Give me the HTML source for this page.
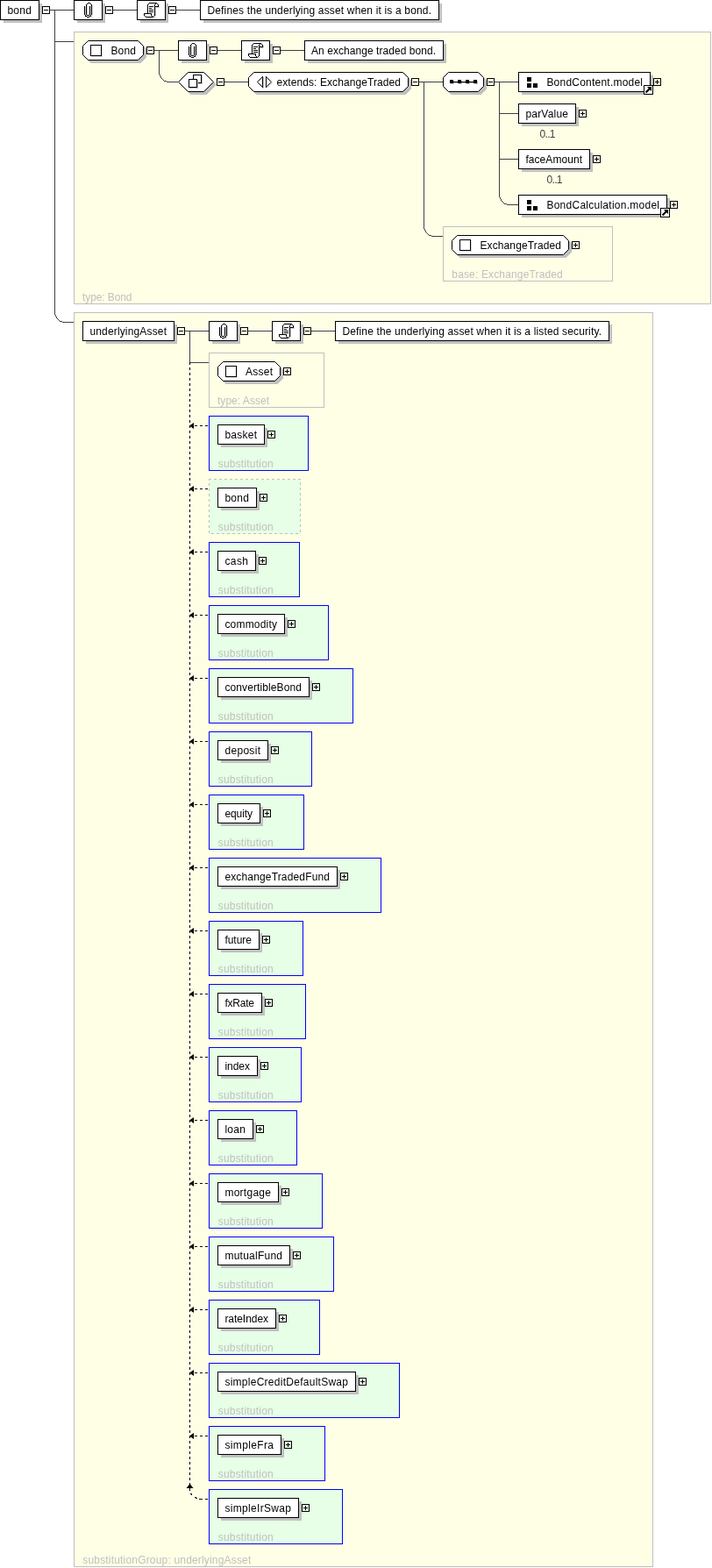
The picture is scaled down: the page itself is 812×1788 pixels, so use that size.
<!DOCTYPE html>
<html><head><meta charset="utf-8"><title>bond</title>
<style>
html,body{margin:0;padding:0;background:#fff}
svg{display:block;will-change:transform}
svg text{font-family:"Liberation Sans",sans-serif;font-size:12px;white-space:pre}
svg rect, svg path, svg polygon{shape-rendering:crispEdges}
svg .aa, svg .aa *{shape-rendering:geometricPrecision}
</style></head>
<body>
<svg width="812" height="1788" viewBox="0 0 812 1788">
<rect x="57" y="11" width="27" height="1" fill="#404040"/>
<rect x="129" y="11" width="27" height="1" fill="#404040"/>
<rect x="201" y="11" width="27" height="1" fill="#404040"/>
<rect x="62" y="11" width="1" height="347" fill="#404040"/>
<rect x="62" y="47" width="22" height="1" fill="#404040"/>
<rect x="62" y="350" width="1" height="9" fill="#404040"/>
<rect x="63" y="359" width="1" height="2" fill="#404040"/>
<rect x="64" y="361" width="1" height="2" fill="#404040"/>
<rect x="65" y="363" width="1" height="1" fill="#404040"/>
<rect x="66" y="364" width="1" height="1" fill="#404040"/>
<rect x="67" y="365" width="1" height="1" fill="#404040"/>
<rect x="68" y="366" width="3" height="1" fill="#404040"/>
<rect x="71" y="367" width="13" height="1" fill="#404040"/>
<rect x="4" y="4" width="44" height="22" fill="#c0c0c0"/>
<rect x="0.5" y="0.5" width="44" height="22" fill="#fff" stroke="#000"/>
<text x="8.4" y="16" fill="#000" textLength="27.6" lengthAdjust="spacing">bond</text>
<rect x="48.5" y="7.5" width="8" height="8" fill="#fff" stroke="#000"/>
<rect x="50" y="11" width="5" height="1" fill="#000"/>
<rect x="88" y="4" width="32" height="22" fill="#c0c0c0"/>
<rect x="84.5" y="0.5" width="32" height="22" fill="#fff" stroke="#000"/>
<path d="M97,8h1v9h-1zM99,5h1v12h-1zM103,7h1v10h-1zM105,6h1v12h-1zM100,18h3v1h-3zM104,19h1v1h-1z" fill="#dcdcdc"/>
<path d="M96,7h1v10h-1zM97,17h1v2h-1zM98,18h1v1h-1zM99,19h3v1h-3zM102,18h1v1h-1zM103,17h1v2h-1zM104,5h1v12h-1zM103,4h1v1h-1zM100,3h3v1h-3zM99,4h1v1h-1zM98,5h1v12h-1zM99,17h3v1h-3zM102,7h1v10h-1z" fill="#000"/>
<rect x="120.5" y="7.5" width="8" height="8" fill="#fff" stroke="#000"/>
<rect x="122" y="11" width="5" height="1" fill="#000"/>
<rect x="160" y="4" width="32" height="22" fill="#c0c0c0"/>
<rect x="156.5" y="0.5" width="32" height="22" fill="#fff" stroke="#000"/>
<path d="M177,8h1v11h-1zM176,19h1v1h-1zM175,20h2v1h-2zM181,6h1v2h-1zM178,8h4v1h-4z" fill="#d0d0d0"/>
<path d="M170,3h9v1h-9zM169,4h1v1h-1zM177,4h1v1h-1zM179,4h1v1h-1zM168,5h1v10h-1zM176,5h1v13h-1zM180,5h1v2h-1zM177,7h4v1h-4zM170,7h5v1h-5zM170,9h3v1h-3zM170,11h5v1h-5zM170,13h5v1h-5zM164,15h9v1h-9zM164,16h1v2h-1zM172,16h1v2h-1zM165,18h1v1h-1zM173,18h1v1h-1zM175,18h1v1h-1zM166,19h9v1h-9z" fill="#000"/>
<rect x="192.5" y="7.5" width="8" height="8" fill="#fff" stroke="#000"/>
<rect x="194" y="11" width="5" height="1" fill="#000"/>
<rect x="232" y="4" width="272" height="22" fill="#c0c0c0"/>
<rect x="228.5" y="0.5" width="272" height="22" fill="#fff" stroke="#000"/>
<text x="236.4" y="16" fill="#000" textLength="255.6" lengthAdjust="spacing">Defines the underlying asset when it is a bond.</text>
<rect x="84.5" y="36.5" width="726" height="310" fill="#ffffe6" stroke="#c0c0c0"/>
<text x="94" y="343" fill="#c0c0c0" textLength="56.5" lengthAdjust="spacing">type: Bond</text>
<rect x="176" y="57" width="27" height="1" fill="#404040"/>
<rect x="248" y="57" width="27" height="1" fill="#404040"/>
<rect x="320" y="57" width="27" height="1" fill="#404040"/>
<rect x="181" y="57" width="1" height="28" fill="#404040"/>
<rect x="182" y="85" width="1" height="2" fill="#404040"/>
<rect x="183" y="87" width="1" height="2" fill="#404040"/>
<rect x="184" y="89" width="1" height="1" fill="#404040"/>
<rect x="185" y="90" width="1" height="1" fill="#404040"/>
<rect x="186" y="91" width="1" height="1" fill="#404040"/>
<rect x="187" y="92" width="3" height="1" fill="#404040"/>
<rect x="190" y="93" width="13" height="1" fill="#404040"/>
<rect x="256" y="93" width="27" height="1" fill="#404040"/>
<rect x="478" y="93" width="27" height="1" fill="#404040"/>
<rect x="564" y="93" width="27" height="1" fill="#404040"/>
<rect x="483" y="93" width="1" height="167" fill="#404040"/>
<rect x="569" y="93" width="1" height="132" fill="#404040"/>
<rect x="569" y="129" width="22" height="1" fill="#404040"/>
<rect x="569" y="181" width="22" height="1" fill="#404040"/>
<rect x="569" y="220" width="1" height="5" fill="#404040"/>
<rect x="570" y="225" width="1" height="2" fill="#404040"/>
<rect x="571" y="227" width="1" height="2" fill="#404040"/>
<rect x="572" y="229" width="1" height="1" fill="#404040"/>
<rect x="573" y="230" width="1" height="1" fill="#404040"/>
<rect x="574" y="231" width="1" height="1" fill="#404040"/>
<rect x="575" y="232" width="3" height="1" fill="#404040"/>
<rect x="578" y="233" width="13" height="1" fill="#404040"/>
<polygon points="103.5,49.5 160.5,49.5 166.5,55.5 166.5,65.5 160.5,71.5 103.5,71.5 97.5,65.5 97.5,55.5" fill="#c0c0c0" stroke="#c0c0c0" class="aa"/>
<polygon points="100.5,46.5 157.5,46.5 163.5,52.5 163.5,62.5 157.5,68.5 100.5,68.5 94.5,62.5 94.5,52.5" fill="#fff" stroke="#000" class="aa"/>
<rect x="104.5" y="52.5" width="12" height="12" fill="none" stroke="#d8d8d8"/>
<rect x="103.5" y="51.5" width="12" height="12" fill="#fff" stroke="#000"/>
<text x="126.4" y="62" fill="#000" textLength="28.6" lengthAdjust="spacing">Bond</text>
<rect x="167.5" y="53.5" width="8" height="8" fill="#ffffe6" stroke="#000"/>
<rect x="169" y="57" width="5" height="1" fill="#000"/>
<rect x="207" y="50" width="32" height="22" fill="#c0c0c0"/>
<rect x="203.5" y="46.5" width="32" height="22" fill="#fff" stroke="#000"/>
<path d="M216,54h1v9h-1zM218,51h1v12h-1zM222,53h1v10h-1zM224,52h1v12h-1zM219,64h3v1h-3zM223,65h1v1h-1z" fill="#dcdcdc"/>
<path d="M215,53h1v10h-1zM216,63h1v2h-1zM217,64h1v1h-1zM218,65h3v1h-3zM221,64h1v1h-1zM222,63h1v2h-1zM223,51h1v12h-1zM222,50h1v1h-1zM219,49h3v1h-3zM218,50h1v1h-1zM217,51h1v12h-1zM218,63h3v1h-3zM221,53h1v10h-1z" fill="#000"/>
<rect x="239.5" y="53.5" width="8" height="8" fill="#ffffe6" stroke="#000"/>
<rect x="241" y="57" width="5" height="1" fill="#000"/>
<rect x="279" y="50" width="32" height="22" fill="#c0c0c0"/>
<rect x="275.5" y="46.5" width="32" height="22" fill="#fff" stroke="#000"/>
<path d="M296,54h1v11h-1zM295,65h1v1h-1zM294,66h2v1h-2zM300,52h1v2h-1zM297,54h4v1h-4z" fill="#d0d0d0"/>
<path d="M289,49h9v1h-9zM288,50h1v1h-1zM296,50h1v1h-1zM298,50h1v1h-1zM287,51h1v10h-1zM295,51h1v13h-1zM299,51h1v2h-1zM296,53h4v1h-4zM289,53h5v1h-5zM289,55h3v1h-3zM289,57h5v1h-5zM289,59h5v1h-5zM283,61h9v1h-9zM283,62h1v2h-1zM291,62h1v2h-1zM284,64h1v1h-1zM292,64h1v1h-1zM294,64h1v1h-1zM285,65h9v1h-9z" fill="#000"/>
<rect x="311.5" y="53.5" width="8" height="8" fill="#ffffe6" stroke="#000"/>
<rect x="313" y="57" width="5" height="1" fill="#000"/>
<rect x="351" y="50" width="158" height="22" fill="#c0c0c0"/>
<rect x="347.5" y="46.5" width="158" height="22" fill="#fff" stroke="#000"/>
<text x="355" y="62" fill="#000" textLength="142" lengthAdjust="spacing">An exchange traded bond.</text>
<polygon points="206.5,96.5 217.5,85.5 235.5,85.5 246.5,96.5 235.5,107.5 217.5,107.5" fill="#c0c0c0" stroke="#c0c0c0" class="aa"/>
<polygon points="203.5,93.5 214.5,82.5 232.5,82.5 243.5,93.5 232.5,104.5 214.5,104.5" fill="#fff" stroke="#000" class="aa"/>
<rect x="221.5" y="86.5" width="9" height="9" fill="none" stroke="#c0c0c0"/>
<rect x="220.500" y="85.500" width="9" height="9" fill="#fff" stroke="#000"/>
<rect x="216.5" y="91.5" width="9" height="9" fill="none" stroke="#c0c0c0"/>
<rect x="215.500" y="90.500" width="9" height="9" fill="#fff" stroke="#000"/>
<rect x="247.5" y="89.5" width="8" height="8" fill="#ffffe6" stroke="#000"/>
<rect x="249" y="93" width="5" height="1" fill="#000"/>
<polygon points="292.5,85.5 462.5,85.5 468.5,91.5 468.5,101.5 462.5,107.5 292.5,107.5 286.5,101.5 286.5,91.5" fill="#c0c0c0" stroke="#c0c0c0" class="aa"/>
<polygon points="289.5,82.5 459.5,82.5 465.5,88.5 465.5,98.5 459.5,104.5 289.5,104.5 283.5,98.5 283.5,88.5" fill="#fff" stroke="#000" class="aa"/>
<path d="M300.5,88 V101 M304.500,100.500 L310.500,94.500" fill="none" stroke="#c8c8c8" class="aa"/>
<path d="M299.500,87 V100 M299.500,87.500 L293.500,93.500 L299.500,99.500 M303.500,87 V100 M303.500,87.500 L309.500,93.500 L303.500,99.500" fill="none" stroke="#000" class="aa"/>
<text x="315.4" y="98" fill="#000" textLength="141.6" lengthAdjust="spacing">extends: ExchangeTraded</text>
<rect x="469.5" y="89.5" width="8" height="8" fill="#ffffe6" stroke="#000"/>
<rect x="471" y="93" width="5" height="1" fill="#000"/>
<polygon points="514.5,85.5 548.5,85.5 554.5,91.5 554.5,101.5 548.5,107.5 514.5,107.5 508.5,101.5 508.5,91.5" fill="#c0c0c0" stroke="#c0c0c0" class="aa"/>
<polygon points="511.5,82.5 545.5,82.5 551.5,88.5 551.5,98.5 545.5,104.5 511.5,104.5 505.5,98.5 505.5,88.5" fill="#fff" stroke="#000" class="aa"/>
<rect x="515" y="93" width="28" height="1" fill="#404040"/>
<rect x="516" y="94" width="28" height="1" fill="#c0c0c0"/>
<rect x="514" y="92" width="4" height="4" fill="#c0c0c0"/>
<rect x="523" y="92" width="4" height="4" fill="#c0c0c0"/>
<rect x="532" y="92" width="4" height="4" fill="#c0c0c0"/>
<rect x="541" y="92" width="4" height="4" fill="#c0c0c0"/>
<rect x="513" y="91" width="4" height="4" fill="#000"/>
<rect x="522" y="91" width="4" height="4" fill="#000"/>
<rect x="531" y="91" width="4" height="4" fill="#000"/>
<rect x="540" y="91" width="4" height="4" fill="#000"/>
<rect x="515" y="93" width="28" height="1" fill="#000"/>
<rect x="555.5" y="89.5" width="8" height="8" fill="#ffffe6" stroke="#000"/>
<rect x="557" y="93" width="5" height="1" fill="#000"/>
<rect x="595" y="86" width="150" height="22" fill="#c0c0c0"/>
<rect x="591.5" y="82.5" width="150" height="22" fill="#fff" stroke="#000"/>
<rect x="601" y="88" width="5" height="5" fill="#000"/>
<rect x="601" y="95" width="5" height="5" fill="#000"/>
<rect x="608" y="95" width="5" height="5" fill="#000"/>
<text x="623.4" y="98" fill="#000" textLength="109.6" lengthAdjust="spacing">BondContent.model</text>
<rect x="734.5" y="97.5" width="10" height="10" fill="#fff" stroke="#000"/>
<path d="M738,99 h5 v5 l-1.750,-1.750 l-4,4 l-1.500,-1.500 l4,-4 z" fill="#000" class="aa"/>
<rect x="745.5" y="89.5" width="8" height="8" fill="#ffffe6" stroke="#000"/>
<rect x="747" y="93" width="5" height="1" fill="#000"/>
<rect x="749" y="91" width="1" height="5" fill="#000"/>
<rect x="595" y="122" width="65" height="22" fill="#c0c0c0"/>
<rect x="591.5" y="118.5" width="65" height="22" fill="#fff" stroke="#000"/>
<text x="599.4" y="134" fill="#000" textLength="48.6" lengthAdjust="spacing">parValue</text>
<rect x="660.5" y="125.5" width="8" height="8" fill="#ffffe6" stroke="#000"/>
<rect x="662" y="129" width="5" height="1" fill="#000"/>
<rect x="664" y="127" width="1" height="5" fill="#000"/>
<text x="615.5" y="157" fill="#404040" textLength="18" lengthAdjust="spacing">0..1</text>
<rect x="595" y="174" width="81" height="22" fill="#c0c0c0"/>
<rect x="591.5" y="170.5" width="81" height="22" fill="#fff" stroke="#000"/>
<text x="599.4" y="186" fill="#000" textLength="64.6" lengthAdjust="spacing">faceAmount</text>
<rect x="676.5" y="177.5" width="8" height="8" fill="#ffffe6" stroke="#000"/>
<rect x="678" y="181" width="5" height="1" fill="#000"/>
<rect x="680" y="179" width="1" height="5" fill="#000"/>
<text x="623.5" y="209" fill="#404040" textLength="18" lengthAdjust="spacing">0..1</text>
<rect x="595" y="226" width="169" height="22" fill="#c0c0c0"/>
<rect x="591.5" y="222.5" width="169" height="22" fill="#fff" stroke="#000"/>
<rect x="601" y="228" width="5" height="5" fill="#000"/>
<rect x="601" y="235" width="5" height="5" fill="#000"/>
<rect x="608" y="235" width="5" height="5" fill="#000"/>
<text x="623.4" y="238" fill="#000" textLength="128.6" lengthAdjust="spacing">BondCalculation.model</text>
<rect x="753.5" y="237.5" width="10" height="10" fill="#fff" stroke="#000"/>
<path d="M757,239 h5 v5 l-1.750,-1.750 l-4,4 l-1.500,-1.500 l4,-4 z" fill="#000" class="aa"/>
<rect x="764.5" y="229.5" width="8" height="8" fill="#ffffe6" stroke="#000"/>
<rect x="766" y="233" width="5" height="1" fill="#000"/>
<rect x="768" y="231" width="1" height="5" fill="#000"/>
<rect x="483" y="255" width="1" height="6" fill="#404040"/>
<rect x="484" y="261" width="1" height="2" fill="#404040"/>
<rect x="485" y="263" width="1" height="2" fill="#404040"/>
<rect x="486" y="265" width="1" height="1" fill="#404040"/>
<rect x="487" y="266" width="1" height="1" fill="#404040"/>
<rect x="488" y="267" width="1" height="1" fill="#404040"/>
<rect x="489" y="268" width="3" height="1" fill="#404040"/>
<rect x="492" y="269" width="13" height="1" fill="#404040"/>
<rect x="505.5" y="258.5" width="193" height="62" fill="#ffffe6" stroke="#c0c0c0"/>
<polygon points="524.5,271.5 645.5,271.5 651.5,277.5 651.5,287.5 645.5,293.5 524.5,293.5 518.5,287.5 518.5,277.5" fill="#c0c0c0" stroke="#c0c0c0" class="aa"/>
<polygon points="521.5,268.5 642.5,268.5 648.5,274.5 648.5,284.5 642.5,290.5 521.5,290.5 515.5,284.5 515.5,274.5" fill="#fff" stroke="#000" class="aa"/>
<rect x="525.5" y="274.5" width="12" height="12" fill="none" stroke="#d8d8d8"/>
<rect x="524.5" y="273.5" width="12" height="12" fill="#fff" stroke="#000"/>
<text x="547.4" y="284" fill="#000" textLength="92.6" lengthAdjust="spacing">ExchangeTraded</text>
<rect x="652.5" y="275.5" width="8" height="8" fill="#ffffe6" stroke="#000"/>
<rect x="654" y="279" width="5" height="1" fill="#000"/>
<rect x="656" y="277" width="1" height="5" fill="#000"/>
<text x="515.3" y="317" fill="#c0c0c0" textLength="126.5" lengthAdjust="spacing">base: ExchangeTraded</text>
<rect x="84.5" y="356.5" width="660" height="1430" fill="#ffffe6" stroke="#c0c0c0"/>
<text x="94.3" y="1783" fill="#c0c0c0" textLength="192" lengthAdjust="spacing">substitutionGroup: underlyingAsset</text>
<rect x="211" y="377" width="27" height="1" fill="#404040"/>
<rect x="283" y="377" width="27" height="1" fill="#404040"/>
<rect x="355" y="377" width="27" height="1" fill="#404040"/>
<rect x="216" y="377" width="1" height="37" fill="#404040"/>
<rect x="216" y="413" width="22" height="1" fill="#404040"/>
<rect x="98" y="370" width="104" height="22" fill="#c0c0c0"/>
<rect x="94.5" y="366.5" width="104" height="22" fill="#fff" stroke="#000"/>
<text x="102.4" y="382" fill="#000" textLength="87.6" lengthAdjust="spacing">underlyingAsset</text>
<rect x="202.5" y="373.5" width="8" height="8" fill="#ffffe6" stroke="#000"/>
<rect x="204" y="377" width="5" height="1" fill="#000"/>
<rect x="242" y="370" width="32" height="22" fill="#c0c0c0"/>
<rect x="238.5" y="366.5" width="32" height="22" fill="#fff" stroke="#000"/>
<path d="M251,374h1v9h-1zM253,371h1v12h-1zM257,373h1v10h-1zM259,372h1v12h-1zM254,384h3v1h-3zM258,385h1v1h-1z" fill="#dcdcdc"/>
<path d="M250,373h1v10h-1zM251,383h1v2h-1zM252,384h1v1h-1zM253,385h3v1h-3zM256,384h1v1h-1zM257,383h1v2h-1zM258,371h1v12h-1zM257,370h1v1h-1zM254,369h3v1h-3zM253,370h1v1h-1zM252,371h1v12h-1zM253,383h3v1h-3zM256,373h1v10h-1z" fill="#000"/>
<rect x="274.5" y="373.5" width="8" height="8" fill="#ffffe6" stroke="#000"/>
<rect x="276" y="377" width="5" height="1" fill="#000"/>
<rect x="314" y="370" width="32" height="22" fill="#c0c0c0"/>
<rect x="310.5" y="366.5" width="32" height="22" fill="#fff" stroke="#000"/>
<path d="M331,374h1v11h-1zM330,385h1v1h-1zM329,386h2v1h-2zM335,372h1v2h-1zM332,374h4v1h-4z" fill="#d0d0d0"/>
<path d="M324,369h9v1h-9zM323,370h1v1h-1zM331,370h1v1h-1zM333,370h1v1h-1zM322,371h1v10h-1zM330,371h1v13h-1zM334,371h1v2h-1zM331,373h4v1h-4zM324,373h5v1h-5zM324,375h3v1h-3zM324,377h5v1h-5zM324,379h5v1h-5zM318,381h9v1h-9zM318,382h1v2h-1zM326,382h1v2h-1zM319,384h1v1h-1zM327,384h1v1h-1zM329,384h1v1h-1zM320,385h9v1h-9z" fill="#000"/>
<rect x="346.5" y="373.5" width="8" height="8" fill="#ffffe6" stroke="#000"/>
<rect x="348" y="377" width="5" height="1" fill="#000"/>
<rect x="386" y="370" width="312" height="22" fill="#c0c0c0"/>
<rect x="382.5" y="366.5" width="312" height="22" fill="#fff" stroke="#000"/>
<text x="390.4" y="382" fill="#000" textLength="295.6" lengthAdjust="spacing">Define the underlying asset when it is a listed security.</text>
<rect x="238.5" y="402.5" width="131" height="62" fill="#ffffe6" stroke="#c0c0c0"/>
<polygon points="257.5,415.5 316.5,415.5 322.5,421.5 322.5,431.5 316.5,437.5 257.5,437.5 251.5,431.5 251.5,421.5" fill="#c0c0c0" stroke="#c0c0c0" class="aa"/>
<polygon points="254.5,412.5 313.5,412.5 319.5,418.5 319.5,428.5 313.5,434.5 254.5,434.5 248.5,428.5 248.5,418.5" fill="#fff" stroke="#000" class="aa"/>
<rect x="258.5" y="418.5" width="12" height="12" fill="none" stroke="#d8d8d8"/>
<rect x="257.5" y="417.5" width="12" height="12" fill="#fff" stroke="#000"/>
<text x="280" y="428" fill="#000" textLength="31" lengthAdjust="spacing">Asset</text>
<rect x="323.5" y="419.5" width="8" height="8" fill="#ffffe6" stroke="#000"/>
<rect x="325" y="423" width="5" height="1" fill="#000"/>
<rect x="327" y="421" width="1" height="5" fill="#000"/>
<text x="248" y="461" fill="#c0c0c0" textLength="59" lengthAdjust="spacing">type: Asset</text>
<path d="M216.500,413 V1700" fill="none" stroke="#000" stroke-dasharray="3,3"/>
<rect x="217" y="1703" width="2" height="1" fill="#000"/>
<rect x="218" y="1704" width="1" height="1" fill="#000"/>
<rect x="222" y="1707" width="2" height="1" fill="#000"/>
<rect x="223" y="1708" width="2" height="1" fill="#000"/>
<rect x="227" y="1709" width="4" height="1" fill="#000"/>
<rect x="234" y="1709" width="3" height="1" fill="#000"/>
<path d="M216,485.5 H238" fill="none" stroke="#000" stroke-dasharray="3,3"/>
<path d="M216,485.5 L221,482 V489 Z" fill="#000" class="aa"/>
<rect x="238.5" y="474.5" width="113" height="62" fill="#e6ffe6" stroke="#0000ff"/>
<rect x="252" y="488" width="53" height="22" fill="#c0c0c0"/>
<rect x="248.5" y="484.5" width="53" height="22" fill="#fff" stroke="#000"/>
<text x="256.4" y="500" fill="#000" textLength="36.6" lengthAdjust="spacing">basket</text>
<rect x="305.5" y="491.5" width="8" height="8" fill="#e6ffe6" stroke="#000"/>
<rect x="307" y="495" width="5" height="1" fill="#000"/>
<rect x="309" y="493" width="1" height="5" fill="#000"/>
<text x="248.7" y="533" fill="#c0c0c0" textLength="63" lengthAdjust="spacing">substitution</text>
<path d="M216,557.5 H238" fill="none" stroke="#000" stroke-dasharray="3,3"/>
<path d="M216,557.5 L221,554 V561 Z" fill="#000" class="aa"/>
<rect x="238.5" y="546.5" width="104" height="62" fill="#e6ffe6"/>
<path d="M238,546.5 H343" fill="none" stroke="#c0c0c0" stroke-dasharray="3,3"/>
<path d="M342.5,546 V609" fill="none" stroke="#c0c0c0" stroke-dasharray="3,3" stroke-dashoffset="2"/>
<path d="M238,608.5 H343" fill="none" stroke="#c0c0c0" stroke-dasharray="3,3" stroke-dashoffset="3"/>
<path d="M238.5,546 V609" fill="none" stroke="#c0c0c0" stroke-dasharray="3,3" stroke-dashoffset="1"/>
<rect x="252" y="560" width="44" height="22" fill="#c0c0c0"/>
<rect x="248.5" y="556.5" width="44" height="22" fill="#fff" stroke="#000"/>
<text x="256.4" y="572" fill="#000" textLength="27.6" lengthAdjust="spacing">bond</text>
<rect x="296.5" y="563.5" width="8" height="8" fill="#e6ffe6" stroke="#000"/>
<rect x="298" y="567" width="5" height="1" fill="#000"/>
<rect x="300" y="565" width="1" height="5" fill="#000"/>
<text x="248.7" y="605" fill="#c0c0c0" textLength="63" lengthAdjust="spacing">substitution</text>
<path d="M216,629.5 H238" fill="none" stroke="#000" stroke-dasharray="3,3"/>
<path d="M216,629.5 L221,626 V633 Z" fill="#000" class="aa"/>
<rect x="238.5" y="618.5" width="103" height="62" fill="#e6ffe6" stroke="#0000ff"/>
<rect x="252" y="632" width="43" height="22" fill="#c0c0c0"/>
<rect x="248.5" y="628.5" width="43" height="22" fill="#fff" stroke="#000"/>
<text x="256.4" y="644" fill="#000" textLength="26.6" lengthAdjust="spacing">cash</text>
<rect x="295.5" y="635.5" width="8" height="8" fill="#e6ffe6" stroke="#000"/>
<rect x="297" y="639" width="5" height="1" fill="#000"/>
<rect x="299" y="637" width="1" height="5" fill="#000"/>
<text x="248.7" y="677" fill="#c0c0c0" textLength="63" lengthAdjust="spacing">substitution</text>
<path d="M216,701.5 H238" fill="none" stroke="#000" stroke-dasharray="3,3"/>
<path d="M216,701.5 L221,698 V705 Z" fill="#000" class="aa"/>
<rect x="238.5" y="690.5" width="136" height="62" fill="#e6ffe6" stroke="#0000ff"/>
<rect x="252" y="704" width="76" height="22" fill="#c0c0c0"/>
<rect x="248.5" y="700.5" width="76" height="22" fill="#fff" stroke="#000"/>
<text x="256.4" y="716" fill="#000" textLength="59.6" lengthAdjust="spacing">commodity</text>
<rect x="328.5" y="707.5" width="8" height="8" fill="#e6ffe6" stroke="#000"/>
<rect x="330" y="711" width="5" height="1" fill="#000"/>
<rect x="332" y="709" width="1" height="5" fill="#000"/>
<text x="248.7" y="749" fill="#c0c0c0" textLength="63" lengthAdjust="spacing">substitution</text>
<path d="M216,773.5 H238" fill="none" stroke="#000" stroke-dasharray="3,3"/>
<path d="M216,773.5 L221,770 V777 Z" fill="#000" class="aa"/>
<rect x="238.5" y="762.5" width="164" height="62" fill="#e6ffe6" stroke="#0000ff"/>
<rect x="252" y="776" width="104" height="22" fill="#c0c0c0"/>
<rect x="248.5" y="772.5" width="104" height="22" fill="#fff" stroke="#000"/>
<text x="256.4" y="788" fill="#000" textLength="87.6" lengthAdjust="spacing">convertibleBond</text>
<rect x="356.5" y="779.5" width="8" height="8" fill="#e6ffe6" stroke="#000"/>
<rect x="358" y="783" width="5" height="1" fill="#000"/>
<rect x="360" y="781" width="1" height="5" fill="#000"/>
<text x="248.7" y="821" fill="#c0c0c0" textLength="63" lengthAdjust="spacing">substitution</text>
<path d="M216,845.5 H238" fill="none" stroke="#000" stroke-dasharray="3,3"/>
<path d="M216,845.5 L221,842 V849 Z" fill="#000" class="aa"/>
<rect x="238.5" y="834.5" width="117" height="62" fill="#e6ffe6" stroke="#0000ff"/>
<rect x="252" y="848" width="57" height="22" fill="#c0c0c0"/>
<rect x="248.5" y="844.5" width="57" height="22" fill="#fff" stroke="#000"/>
<text x="256.4" y="860" fill="#000" textLength="40.6" lengthAdjust="spacing">deposit</text>
<rect x="309.5" y="851.5" width="8" height="8" fill="#e6ffe6" stroke="#000"/>
<rect x="311" y="855" width="5" height="1" fill="#000"/>
<rect x="313" y="853" width="1" height="5" fill="#000"/>
<text x="248.7" y="893" fill="#c0c0c0" textLength="63" lengthAdjust="spacing">substitution</text>
<path d="M216,917.5 H238" fill="none" stroke="#000" stroke-dasharray="3,3"/>
<path d="M216,917.5 L221,914 V921 Z" fill="#000" class="aa"/>
<rect x="238.5" y="906.5" width="108" height="62" fill="#e6ffe6" stroke="#0000ff"/>
<rect x="252" y="920" width="48" height="22" fill="#c0c0c0"/>
<rect x="248.5" y="916.5" width="48" height="22" fill="#fff" stroke="#000"/>
<text x="256.4" y="932" fill="#000" textLength="31.6" lengthAdjust="spacing">equity</text>
<rect x="300.5" y="923.5" width="8" height="8" fill="#e6ffe6" stroke="#000"/>
<rect x="302" y="927" width="5" height="1" fill="#000"/>
<rect x="304" y="925" width="1" height="5" fill="#000"/>
<text x="248.7" y="965" fill="#c0c0c0" textLength="63" lengthAdjust="spacing">substitution</text>
<path d="M216,989.5 H238" fill="none" stroke="#000" stroke-dasharray="3,3"/>
<path d="M216,989.5 L221,986 V993 Z" fill="#000" class="aa"/>
<rect x="238.5" y="978.5" width="196" height="62" fill="#e6ffe6" stroke="#0000ff"/>
<rect x="252" y="992" width="136" height="22" fill="#c0c0c0"/>
<rect x="248.5" y="988.5" width="136" height="22" fill="#fff" stroke="#000"/>
<text x="256.4" y="1004" fill="#000" textLength="119.6" lengthAdjust="spacing">exchangeTradedFund</text>
<rect x="388.5" y="995.5" width="8" height="8" fill="#e6ffe6" stroke="#000"/>
<rect x="390" y="999" width="5" height="1" fill="#000"/>
<rect x="392" y="997" width="1" height="5" fill="#000"/>
<text x="248.7" y="1037" fill="#c0c0c0" textLength="63" lengthAdjust="spacing">substitution</text>
<path d="M216,1061.5 H238" fill="none" stroke="#000" stroke-dasharray="3,3"/>
<path d="M216,1061.5 L221,1058 V1065 Z" fill="#000" class="aa"/>
<rect x="238.5" y="1050.5" width="107" height="62" fill="#e6ffe6" stroke="#0000ff"/>
<rect x="252" y="1064" width="47" height="22" fill="#c0c0c0"/>
<rect x="248.5" y="1060.5" width="47" height="22" fill="#fff" stroke="#000"/>
<text x="256.4" y="1076" fill="#000" textLength="30.6" lengthAdjust="spacing">future</text>
<rect x="299.5" y="1067.5" width="8" height="8" fill="#e6ffe6" stroke="#000"/>
<rect x="301" y="1071" width="5" height="1" fill="#000"/>
<rect x="303" y="1069" width="1" height="5" fill="#000"/>
<text x="248.7" y="1109" fill="#c0c0c0" textLength="63" lengthAdjust="spacing">substitution</text>
<path d="M216,1133.5 H238" fill="none" stroke="#000" stroke-dasharray="3,3"/>
<path d="M216,1133.5 L221,1130 V1137 Z" fill="#000" class="aa"/>
<rect x="238.5" y="1122.5" width="110" height="62" fill="#e6ffe6" stroke="#0000ff"/>
<rect x="252" y="1136" width="50" height="22" fill="#c0c0c0"/>
<rect x="248.5" y="1132.5" width="50" height="22" fill="#fff" stroke="#000"/>
<text x="256.4" y="1148" fill="#000" textLength="33.6" lengthAdjust="spacing">fxRate</text>
<rect x="302.5" y="1139.5" width="8" height="8" fill="#e6ffe6" stroke="#000"/>
<rect x="304" y="1143" width="5" height="1" fill="#000"/>
<rect x="306" y="1141" width="1" height="5" fill="#000"/>
<text x="248.7" y="1181" fill="#c0c0c0" textLength="63" lengthAdjust="spacing">substitution</text>
<path d="M216,1205.5 H238" fill="none" stroke="#000" stroke-dasharray="3,3"/>
<path d="M216,1205.5 L221,1202 V1209 Z" fill="#000" class="aa"/>
<rect x="238.5" y="1194.5" width="105" height="62" fill="#e6ffe6" stroke="#0000ff"/>
<rect x="252" y="1208" width="45" height="22" fill="#c0c0c0"/>
<rect x="248.5" y="1204.5" width="45" height="22" fill="#fff" stroke="#000"/>
<text x="256.4" y="1220" fill="#000" textLength="28.6" lengthAdjust="spacing">index</text>
<rect x="297.5" y="1211.5" width="8" height="8" fill="#e6ffe6" stroke="#000"/>
<rect x="299" y="1215" width="5" height="1" fill="#000"/>
<rect x="301" y="1213" width="1" height="5" fill="#000"/>
<text x="248.7" y="1253" fill="#c0c0c0" textLength="63" lengthAdjust="spacing">substitution</text>
<path d="M216,1277.5 H238" fill="none" stroke="#000" stroke-dasharray="3,3"/>
<path d="M216,1277.5 L221,1274 V1281 Z" fill="#000" class="aa"/>
<rect x="238.5" y="1266.5" width="100" height="62" fill="#e6ffe6" stroke="#0000ff"/>
<rect x="252" y="1280" width="40" height="22" fill="#c0c0c0"/>
<rect x="248.5" y="1276.5" width="40" height="22" fill="#fff" stroke="#000"/>
<text x="256.4" y="1292" fill="#000" textLength="23.6" lengthAdjust="spacing">loan</text>
<rect x="292.5" y="1283.5" width="8" height="8" fill="#e6ffe6" stroke="#000"/>
<rect x="294" y="1287" width="5" height="1" fill="#000"/>
<rect x="296" y="1285" width="1" height="5" fill="#000"/>
<text x="248.7" y="1325" fill="#c0c0c0" textLength="63" lengthAdjust="spacing">substitution</text>
<path d="M216,1349.5 H238" fill="none" stroke="#000" stroke-dasharray="3,3"/>
<path d="M216,1349.5 L221,1346 V1353 Z" fill="#000" class="aa"/>
<rect x="238.5" y="1338.5" width="129" height="62" fill="#e6ffe6" stroke="#0000ff"/>
<rect x="252" y="1352" width="69" height="22" fill="#c0c0c0"/>
<rect x="248.5" y="1348.5" width="69" height="22" fill="#fff" stroke="#000"/>
<text x="256.4" y="1364" fill="#000" textLength="52.6" lengthAdjust="spacing">mortgage</text>
<rect x="321.5" y="1355.5" width="8" height="8" fill="#e6ffe6" stroke="#000"/>
<rect x="323" y="1359" width="5" height="1" fill="#000"/>
<rect x="325" y="1357" width="1" height="5" fill="#000"/>
<text x="248.7" y="1397" fill="#c0c0c0" textLength="63" lengthAdjust="spacing">substitution</text>
<path d="M216,1421.5 H238" fill="none" stroke="#000" stroke-dasharray="3,3"/>
<path d="M216,1421.5 L221,1418 V1425 Z" fill="#000" class="aa"/>
<rect x="238.5" y="1410.5" width="142" height="62" fill="#e6ffe6" stroke="#0000ff"/>
<rect x="252" y="1424" width="82" height="22" fill="#c0c0c0"/>
<rect x="248.5" y="1420.5" width="82" height="22" fill="#fff" stroke="#000"/>
<text x="256.4" y="1436" fill="#000" textLength="65.6" lengthAdjust="spacing">mutualFund</text>
<rect x="334.5" y="1427.5" width="8" height="8" fill="#e6ffe6" stroke="#000"/>
<rect x="336" y="1431" width="5" height="1" fill="#000"/>
<rect x="338" y="1429" width="1" height="5" fill="#000"/>
<text x="248.7" y="1469" fill="#c0c0c0" textLength="63" lengthAdjust="spacing">substitution</text>
<path d="M216,1493.5 H238" fill="none" stroke="#000" stroke-dasharray="3,3"/>
<path d="M216,1493.5 L221,1490 V1497 Z" fill="#000" class="aa"/>
<rect x="238.5" y="1482.5" width="126" height="62" fill="#e6ffe6" stroke="#0000ff"/>
<rect x="252" y="1496" width="66" height="22" fill="#c0c0c0"/>
<rect x="248.5" y="1492.5" width="66" height="22" fill="#fff" stroke="#000"/>
<text x="256.4" y="1508" fill="#000" textLength="49.6" lengthAdjust="spacing">rateIndex</text>
<rect x="318.5" y="1499.5" width="8" height="8" fill="#e6ffe6" stroke="#000"/>
<rect x="320" y="1503" width="5" height="1" fill="#000"/>
<rect x="322" y="1501" width="1" height="5" fill="#000"/>
<text x="248.7" y="1541" fill="#c0c0c0" textLength="63" lengthAdjust="spacing">substitution</text>
<path d="M216,1565.5 H238" fill="none" stroke="#000" stroke-dasharray="3,3"/>
<path d="M216,1565.5 L221,1562 V1569 Z" fill="#000" class="aa"/>
<rect x="238.5" y="1554.5" width="217" height="62" fill="#e6ffe6" stroke="#0000ff"/>
<rect x="252" y="1568" width="157" height="22" fill="#c0c0c0"/>
<rect x="248.5" y="1564.5" width="157" height="22" fill="#fff" stroke="#000"/>
<text x="256.4" y="1580" fill="#000" textLength="140.6" lengthAdjust="spacing">simpleCreditDefaultSwap</text>
<rect x="409.5" y="1571.5" width="8" height="8" fill="#e6ffe6" stroke="#000"/>
<rect x="411" y="1575" width="5" height="1" fill="#000"/>
<rect x="413" y="1573" width="1" height="5" fill="#000"/>
<text x="248.7" y="1613" fill="#c0c0c0" textLength="63" lengthAdjust="spacing">substitution</text>
<path d="M216,1637.5 H238" fill="none" stroke="#000" stroke-dasharray="3,3"/>
<path d="M216,1637.5 L221,1634 V1641 Z" fill="#000" class="aa"/>
<rect x="238.5" y="1626.5" width="132" height="62" fill="#e6ffe6" stroke="#0000ff"/>
<rect x="252" y="1640" width="72" height="22" fill="#c0c0c0"/>
<rect x="248.5" y="1636.5" width="72" height="22" fill="#fff" stroke="#000"/>
<text x="256.4" y="1652" fill="#000" textLength="55.6" lengthAdjust="spacing">simpleFra</text>
<rect x="324.5" y="1643.5" width="8" height="8" fill="#e6ffe6" stroke="#000"/>
<rect x="326" y="1647" width="5" height="1" fill="#000"/>
<rect x="328" y="1645" width="1" height="5" fill="#000"/>
<text x="248.7" y="1685" fill="#c0c0c0" textLength="63" lengthAdjust="spacing">substitution</text>
<path d="M216.500,1692 L220.500,1697 H212.500 Z" fill="#000" class="aa"/>
<rect x="238.5" y="1698.5" width="152" height="62" fill="#e6ffe6" stroke="#0000ff"/>
<rect x="252" y="1712" width="92" height="22" fill="#c0c0c0"/>
<rect x="248.5" y="1708.5" width="92" height="22" fill="#fff" stroke="#000"/>
<text x="256.4" y="1724" fill="#000" textLength="75.6" lengthAdjust="spacing">simpleIrSwap</text>
<rect x="344.5" y="1715.5" width="8" height="8" fill="#e6ffe6" stroke="#000"/>
<rect x="346" y="1719" width="5" height="1" fill="#000"/>
<rect x="348" y="1717" width="1" height="5" fill="#000"/>
<text x="248.7" y="1757" fill="#c0c0c0" textLength="63" lengthAdjust="spacing">substitution</text>
</svg>
</body></html>
